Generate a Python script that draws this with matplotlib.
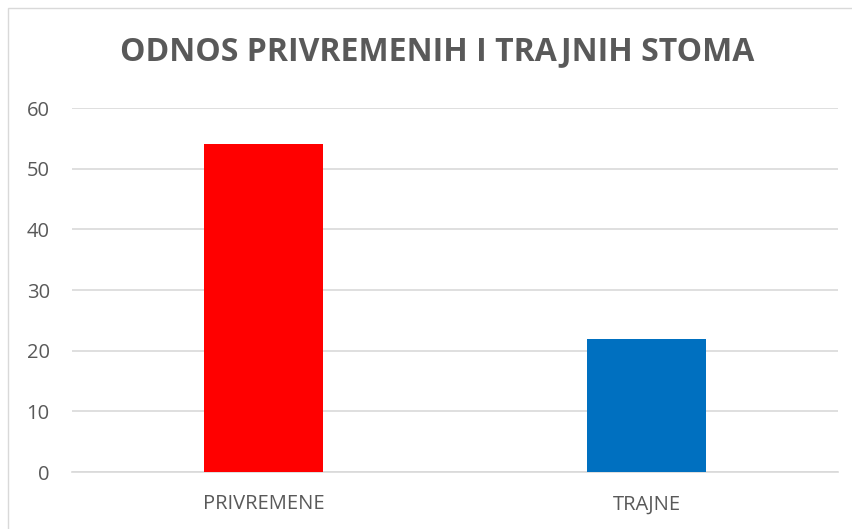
import matplotlib
matplotlib.use("Agg")
import matplotlib.pyplot as plt
from matplotlib.patches import Rectangle

categories = ["PRIVREMENE", "TRAJNE"]
values = [54, 22]
colors = ["#ff0000", "#0070c0"]
yticks = [0, 10, 20, 30, 40, 50, 60]
title = "ODNOS PRIVREMENIH I TRAJNIH STOMA"

plt.rcParams["font.family"] = ["Open Sans", "DejaVu Sans"]
TEXT = "#595959"
GRID = "#d9d9d9"


def main():
    fig = plt.figure(figsize=(8.53, 5.29), dpi=100)
    fig.patches.append(Rectangle((8 / 853, -0.01), 1.0, 1 - 8 / 529 + 0.01,
                                 transform=fig.transFigure, fill=False,
                                 edgecolor=GRID, linewidth=1))
    ax = fig.add_axes([72 / 853, 1 - 472 / 529, (838 - 72) / 853, (472 - 108) / 529])

    x = range(len(categories))
    ax.bar(x, values, width=0.31, color=colors, zorder=3)

    ax.set_xlim(-0.5, len(categories) - 0.5)
    ax.set_ylim(0, 60)
    ax.set_yticks(yticks)
    ax.set_xticks(list(x))
    ax.set_xticklabels(categories)
    ax.yaxis.grid(True, color=GRID, linewidth=1.2, zorder=0)
    for s in ["top", "right", "left"]:
        ax.spines[s].set_visible(False)
    ax.spines["bottom"].set_color(GRID)
    ax.spines["bottom"].set_linewidth(1.2)
    ax.tick_params(axis="both", length=0, labelcolor=TEXT, labelsize=14.5)
    ax.tick_params(axis="y", pad=16)
    ax.tick_params(axis="x", pad=16)

    fig.text(437 / 853, 1 - 52 / 529, title, ha="center", va="center",
             fontsize=23, fontweight="bold", color=TEXT)

    fig.savefig("out.png", dpi=100)
    plt.close(fig)


if __name__ == "__main__":
    main()
